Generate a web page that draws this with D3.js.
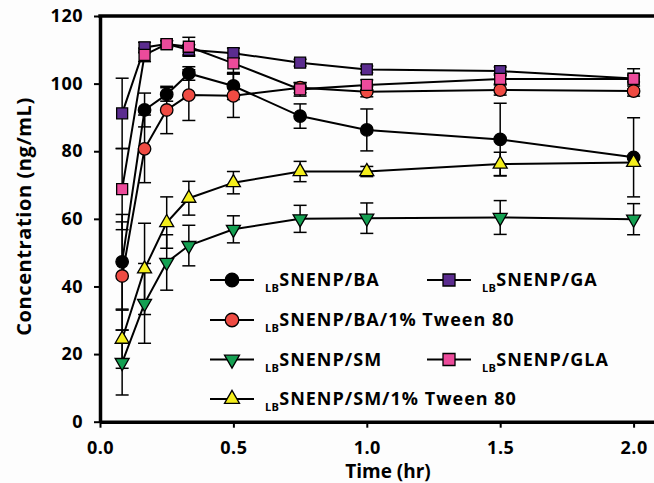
<html>
<head>
<meta charset="utf-8">
<title>Concentration vs time</title>
<style>
  body { margin: 0; padding: 0; background: #fdfdfd; font-family: "Open Sans", sans-serif; }
  .tick text { font-family: "Open Sans", sans-serif; font-weight: bold; font-size: 18px; fill: #000; letter-spacing: 0.5px; }
  .axis path, .axis line { stroke: #000; }
  .legend text { font-family: "Open Sans", sans-serif; font-weight: bold; font-size: 18px; letter-spacing: 1px; }
</style>
</head>
<body>
<div id="chart"></div>
<script src="https://d3js.org/d3.v7.min.js"></script>
<script>
var times = [0.083, 0.167, 0.25, 0.333, 0.5, 0.75, 1.0, 1.5, 2.0];
var xTicks = [0.0, 0.5, 1.0, 1.5, 2.0];
var yTicks = [0, 20, 40, 60, 80, 100, 120];

// mean values per formulation
var ba       = [47.3, 92.2, 96.8, 103.0, 99.3, 90.4, 86.3, 83.5, 78.2];
var baTween  = [43.1, 80.7, 92.2, 96.6, 96.4, 98.8, 97.6, 98.1, 97.8];
var sm       = [17.5, 35.0, 47.1, 52.1, 56.9, 60.0, 60.2, 60.4, 59.9];
var smTween  = [24.4, 45.2, 58.9, 66.1, 70.7, 74.0, 74.0, 76.2, 76.7];
var ga       = [91.2, 110.7, 111.7, 110.0, 109.0, 106.2, 104.2, 103.7, 101.5];
var gla      = [68.8, 108.5, 111.7, 110.9, 106.0, 98.3, 99.6, 101.4, 101.4];

// standard deviations
var baSd      = [14.0, 5.0, 2.0, 2.0, 4.0, 3.6, 6.2, 10.7, 11.7];
var baTweenSd = [16.0, 10.0, 7.0, 7.5, 6.4, 1.5, 1.5, 1.5, 1.5];
var smSd      = [9.6, 11.8, 8.2, 6.0, 4.0, 4.0, 4.5, 5.0, 4.6];
var smTweenSd = [8.6, 13.5, 7.6, 5.0, 3.3, 3.0, 1.5, 3.5, 1.0];
var gaSd      = [10.4, 1.5, 1.0, 1.5, 1.5, 1.0, 1.0, 1.2, 1.0];
var glaSd     = [12.0, 2.0, 1.0, 2.8, 3.0, 2.0, 1.5, 1.5, 3.0];

var series = [
  {name: "SNENP/BA", values: ba, sd: baSd, shape: "circle", color: "#000000"},
  {name: "SNENP/BA/1% Tween 80", values: baTween, sd: baTweenSd, shape: "circle", color: "#ef4b43"},
  {name: "SNENP/SM", values: sm, sd: smSd, shape: "down", color: "#14a052"},
  {name: "SNENP/SM/1% Tween 80", values: smTween, sd: smTweenSd, shape: "up", color: "#f4ee1c"},
  {name: "SNENP/GA", values: ga, sd: gaSd, shape: "square", color: "#5b2c8f"},
  {name: "SNENP/GLA", values: gla, sd: glaSd, shape: "square", color: "#ec4b9b"}
];

var width = 654, height = 483;
var margin = {top: 16, right: 0, bottom: 62, left: 100};

var svg = d3.select("#chart").append("svg")
  .attr("width", width).attr("height", height);

var x = d3.scaleLinear().domain([0, 2.0765]).range([margin.left, width - margin.right]);
var y = d3.scaleLinear().domain([0, 120]).range([height - margin.bottom + 0.7, margin.top]);

// marker paths sized by their width in px
function symbolFor(shape, w) {
  if (shape == "circle") return d3.symbol().type(d3.symbolCircle).size(Math.PI * w * w / 4)();
  if (shape == "square") return d3.symbol().type(d3.symbolSquare).size(w * w)();
  return d3.symbol().type(d3.symbolTriangle).size(w * w * Math.sqrt(3) / 4)();
}

// axes
svg.append("g").attr("class", "axis")
  .attr("transform", "translate(0," + y(0) + ")")
  .call(d3.axisBottom(x).tickValues(xTicks).tickFormat(d3.format(".1f")).tickSize(6).tickSizeOuter(0).tickPadding(14));
svg.append("g").attr("class", "axis")
  .attr("transform", "translate(" + x(0) + ",0)")
  .call(d3.axisLeft(y).tickValues(yTicks).tickSize(6).tickSizeOuter(0).tickPadding(11));
svg.selectAll(".axis path").attr("stroke-width", 3.5);
svg.selectAll(".axis line").attr("stroke-width", 2);

// top border
svg.append("line")
  .attr("x1", x(0) - 1.7).attr("x2", width)
  .attr("y1", y(120)).attr("y2", y(120))
  .attr("stroke", "#000").attr("stroke-width", 3.5);

// axis titles
svg.append("text")
  .attr("transform", "translate(31,216.5) rotate(-90)")
  .attr("text-anchor", "middle")
  .attr("font-weight", "bold").attr("font-size", 20).attr("letter-spacing", 0.6)
  .text("Concentration (ng/mL)");
svg.append("text")
  .attr("x", 388).attr("y", 478)
  .attr("text-anchor", "middle")
  .attr("font-weight", "bold").attr("font-size", 19)
  .text("Time (hr)");

var line = d3.line().x(function (d) { return x(d[0]); }).y(function (d) { return y(d[1]); });

// error bars
series.forEach(function (s) {
  var g = svg.append("g");
  times.forEach(function (t, i) {
    var lo = s.values[i] - s.sd[i], hi = s.values[i] + s.sd[i];
    g.append("line").attr("x1", x(t)).attr("x2", x(t)).attr("y1", y(lo)).attr("y2", y(hi))
      .attr("stroke", "#000").attr("stroke-width", 1.5);
    [lo, hi].forEach(function (v) {
      g.append("line").attr("x1", x(t) - 6.5).attr("x2", x(t) + 6.5).attr("y1", y(v)).attr("y2", y(v))
        .attr("stroke", "#000").attr("stroke-width", 1.5);
    });
  });
});

// lines
series.forEach(function (s) {
  svg.append("path")
    .datum(times.map(function (t, i) { return [t, s.values[i]]; }))
    .attr("d", line).attr("fill", "none").attr("stroke", "#000").attr("stroke-width", 2);
});

// markers
var markerW = {circle: 12.5, square: 11, up: 14, down: 14};
series.forEach(function (s) {
  svg.append("g").selectAll("path")
    .data(times.map(function (t, i) { return [t, s.values[i]]; }))
    .enter().append("path")
    .attr("d", symbolFor(s.shape, markerW[s.shape]))
    .attr("transform", function (d) {
      return "translate(" + x(d[0]) + "," + y(d[1]) + ")" + (s.shape == "down" ? " rotate(180)" : "");
    })
    .attr("fill", s.color).attr("stroke", "#000").attr("stroke-width", 1.3);
});

// legend
var legendPos = [
  {col: 0, row: 0}, {col: 0, row: 1}, {col: 0, row: 2}, {col: 0, row: 3},
  {col: 1, row: 0}, {col: 1, row: 2}
];
var colX = [210, 427], rowY = [280, 320, 359.5, 399];
var legend = svg.append("g").attr("class", "legend");
series.forEach(function (s, i) {
  var lx = colX[legendPos[i].col], ly = rowY[legendPos[i].row];
  var g = legend.append("g").attr("transform", "translate(" + lx + "," + ly + ")");
  g.append("line").attr("x1", 0).attr("x2", 44).attr("y1", 0).attr("y2", 0)
    .attr("stroke", "#000").attr("stroke-width", 2);
  g.append("path").attr("d", symbolFor(s.shape, markerW[s.shape] + 1))
    .attr("transform", "translate(22,0)" + (s.shape == "down" ? " rotate(180)" : ""))
    .attr("fill", s.color).attr("stroke", "#000").attr("stroke-width", 1.3);
  var t = g.append("text").attr("x", 55).attr("y", 6);
  t.append("tspan").attr("font-size", 11).attr("letter-spacing", 0.3).attr("dy", 6).text("LB");
  t.append("tspan").attr("dy", -6).text(s.name);
});
</script>
</body>
</html>
